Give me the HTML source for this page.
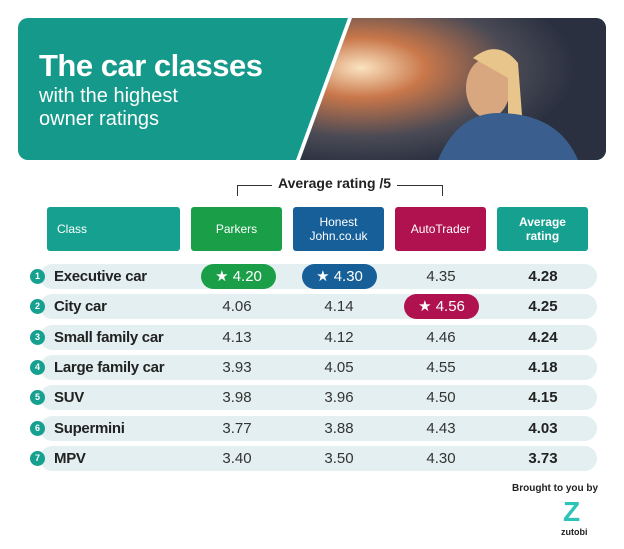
<!DOCTYPE html>
<html><head><style>
body{margin:0;width:624px;height:549px;background:#fff;font-family:"Liberation Sans",sans-serif;position:relative;overflow:hidden}
.a{position:absolute}
.hb{position:absolute;top:207px;height:44px;border-radius:3px;color:#fff;font-size:12px;display:flex;align-items:center;justify-content:center;text-align:center;line-height:14px}
.row{position:absolute;left:40px;width:557px;height:25px;background:#e3eff0;border-radius:13px}
.num{position:absolute;left:30px;width:15px;height:15px;border-radius:50%;background:#16a08f;color:#fff;font-size:9px;font-weight:bold;text-align:center;line-height:15px}
.cls{position:absolute;left:54px;font-size:15px;font-weight:bold;color:#222;letter-spacing:-0.3px}
.v{position:absolute;width:90px;text-align:center;font-size:15px;color:#333}
.b{font-weight:bold;color:#222}
.pill{position:absolute;width:75px;height:25px;border-radius:13px;color:#fff;font-size:15px;text-align:center;line-height:25px}
</style></head><body>
<div class="a" style="left:18px;top:18px;width:588px;height:142px;border-radius:10px;background:#14998a;overflow:hidden">
<svg class="a" style="left:0;top:0" width="588" height="142">
<defs><radialGradient id="g" cx="0.2" cy="0.35" r="0.7"><stop offset="0" stop-color="#fbe3c0"/><stop offset="0.3" stop-color="#c9774a"/><stop offset="0.7" stop-color="#4a4a55"/><stop offset="1" stop-color="#2a3040"/></radialGradient></defs>
<polygon points="334,0 588,0 588,142 282,142" fill="url(#g)"/>
<polygon points="330,0 334,0 282,142 278,142" fill="#fff"/>
<ellipse cx="470" cy="70" rx="22" ry="30" fill="#d9a77f"/>
<path d="M455,40 Q480,20 500,45 L505,110 L490,100 L490,60 Z" fill="#e8c58a"/>
<path d="M420,142 Q440,95 480,95 Q540,95 560,142 Z" fill="#3a5f8e"/>
</svg>
<div class="a" style="left:21px;top:30px;color:#fff;font-size:31px;font-weight:bold;letter-spacing:-0.5px">The car classes</div>
<div class="a" style="left:21px;top:67px;color:#fff;font-size:20px;line-height:23px">with the highest<br>owner ratings</div>
</div>
<div class="a" style="left:237px;top:185px;width:204px;height:10px;border-top:1.5px solid #333;border-left:1.5px solid #333;border-right:1.5px solid #333"></div>
<div class="a" style="left:272px;top:175px;background:#fff;padding:0 6px;font-size:14px;font-weight:bold;color:#222">Average rating /5</div>
<div class="hb" style="left:47px;width:133px;background:#16a08f;justify-content:flex-start;padding-left:10px;box-sizing:border-box">Class</div>
<div class="hb" style="left:191px;width:91px;background:#1a9e48">Parkers</div>
<div class="hb" style="left:293px;width:91px;background:#165f98">Honest<br>John.co.uk</div>
<div class="hb" style="left:395px;width:91px;background:#b0124f">AutoTrader</div>
<div class="hb" style="left:497px;width:91px;background:#16a08f;font-weight:bold">Average<br>rating</div>

<div class="row" style="top:264px"></div><div class="row" style="top:294px"></div><div class="row" style="top:325px"></div><div class="row" style="top:355px"></div><div class="row" style="top:385px"></div><div class="row" style="top:416px"></div><div class="row" style="top:446px"></div>

<div class="num" style="top:269px">1</div><div class="cls" style="top:268px">Executive car</div>
<div class="pill" style="left:201px;top:264px;background:#1a9e48">★ 4.20</div>
<div class="pill" style="left:302px;top:264px;background:#165f98">★ 4.30</div>
<div class="v" style="left:396px;top:268px">4.35</div><div class="v b" style="left:498px;top:268px">4.28</div>

<div class="num" style="top:299px">2</div><div class="cls" style="top:298px">City car</div>
<div class="v" style="left:192px;top:298px">4.06</div><div class="v" style="left:294px;top:298px">4.14</div>
<div class="pill" style="left:404px;top:294px;background:#b0124f">★ 4.56</div><div class="v b" style="left:498px;top:298px">4.25</div>

<div class="num" style="top:330px">3</div><div class="cls" style="top:329px">Small family car</div>
<div class="v" style="left:192px;top:329px">4.13</div><div class="v" style="left:294px;top:329px">4.12</div><div class="v" style="left:396px;top:329px">4.46</div><div class="v b" style="left:498px;top:329px">4.24</div>

<div class="num" style="top:360px">4</div><div class="cls" style="top:359px">Large family car</div>
<div class="v" style="left:192px;top:359px">3.93</div><div class="v" style="left:294px;top:359px">4.05</div><div class="v" style="left:396px;top:359px">4.55</div><div class="v b" style="left:498px;top:359px">4.18</div>

<div class="num" style="top:390px">5</div><div class="cls" style="top:389px">SUV</div>
<div class="v" style="left:192px;top:389px">3.98</div><div class="v" style="left:294px;top:389px">3.96</div><div class="v" style="left:396px;top:389px">4.50</div><div class="v b" style="left:498px;top:389px">4.15</div>

<div class="num" style="top:421px">6</div><div class="cls" style="top:420px">Supermini</div>
<div class="v" style="left:192px;top:420px">3.77</div><div class="v" style="left:294px;top:420px">3.88</div><div class="v" style="left:396px;top:420px">4.43</div><div class="v b" style="left:498px;top:420px">4.03</div>

<div class="num" style="top:451px">7</div><div class="cls" style="top:450px">MPV</div>
<div class="v" style="left:192px;top:450px">3.40</div><div class="v" style="left:294px;top:450px">3.50</div><div class="v" style="left:396px;top:450px">4.30</div><div class="v b" style="left:498px;top:450px">3.73</div>

<div class="a" style="left:512px;top:483px;font-size:10px;font-weight:bold;color:#222">Brought to you by</div>
<div class="a" style="left:563px;top:498px;font-size:28px;font-weight:bold;color:#2cc4b8;line-height:28px">Z</div>
<div class="a" style="left:561px;top:527px;font-size:9px;font-weight:bold;color:#222">zutobi</div>
</body></html>
